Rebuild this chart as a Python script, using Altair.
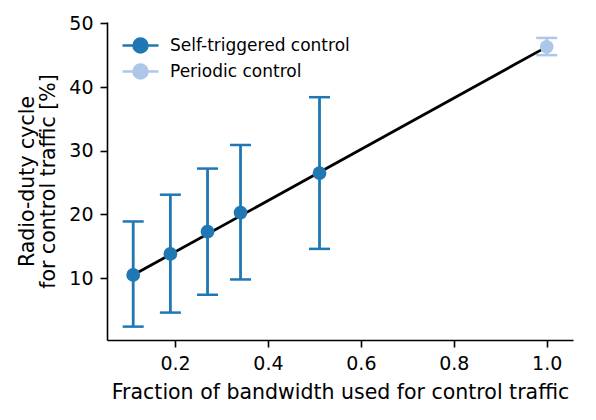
import altair as alt
import pandas as pd

# Data
series = ["Self-triggered control"] * 5 + ["Periodic control"]
frac = [0.110, 0.190, 0.270, 0.341, 0.511, 1.0]
duty = [10.5, 13.8, 17.3, 20.3, 26.5, 46.3]
low = [2.4, 4.6, 7.4, 9.8, 14.6, 45.0]
high = [18.9, 23.1, 27.2, 30.9, 38.4, 47.7]

fit_x = [0.110, 1.0]
fit_y = [10.5, 46.3]

x_ticks = [0.2, 0.4, 0.6, 0.8, 1.0]
y_ticks = [10, 20, 30, 40, 50]

df = pd.DataFrame({"series": series, "frac": frac, "duty": duty, "low": low, "high": high})
fit = pd.DataFrame({"frac": fit_x, "duty": fit_y})

FONT = "DejaVu Sans"
dom = ["Self-triggered control", "Periodic control"]
rng = ["#1f77b4", "#aec7e8"]

xs = alt.Scale(domain=[0.0536, 1.0566], nice=False, zero=False)
ys = alt.Scale(domain=[0.3, 50.2], nice=False, zero=False)

xenc = alt.X("frac:Q", scale=xs,
             axis=alt.Axis(values=x_ticks, format=".1f",
                           title="Fraction of bandwidth used for control traffic"))
yenc = alt.Y("duty:Q", scale=ys,
             axis=alt.Axis(values=y_ticks, format="d",
                           title=["Radio-duty cycle", "for control traffic [%]"]))

cscale = alt.Scale(domain=dom, range=rng)

sym = "M-1.8,0L1.8,0M0.7,0A0.7,0.7,0,1,1,-0.7,0A0.7,0.7,0,1,1,0.7,0Z"
leg = alt.Legend(
    title=None, orient="none", legendX=22, legendY=12, symbolType=sym,
    symbolSize=400, symbolStrokeWidth=2.5, labelOffset=18, rowPadding=1,
    labelFont=FONT, labelFontSize=17, labelColor="black", padding=0,
    labelBaseline="middle", labelLimit=400,
)

cenc = alt.Color("series:N", scale=cscale, legend=leg, sort=dom)

line = alt.Chart(fit).mark_line(color="black", strokeWidth=2.8).encode(x=xenc, y=yenc)

bars = alt.Chart(df).mark_rule(strokeWidth=2.8).encode(
    x=alt.X("frac:Q", scale=xs),
    y=alt.Y("low:Q", scale=ys),
    y2="high:Q",
    color=cenc,
)

caps = alt.Chart(df).transform_fold(["low", "high"], as_=["end", "val"]).mark_tick(
    orient="horizontal", size=21, thickness=2.5, opacity=1
).encode(
    x=alt.X("frac:Q", scale=xs),
    y=alt.Y("val:Q", scale=ys),
    color=cenc,
)

points = alt.Chart(df).mark_point(filled=True, size=190, opacity=1).encode(
    x=alt.X("frac:Q", scale=xs),
    y=alt.Y("duty:Q", scale=ys),
    color=cenc,
)

chart = alt.layer(line, bars, caps, points).properties(
    width=466, height=318,
    padding={"left": 107, "top": 22, "right": 23, "bottom": 80},
    autosize=alt.AutoSizeParams(type="none"),
    background="white",
).configure_view(stroke=None).configure_axis(
    grid=False, domainColor="black", domainWidth=1.6, tickColor="black",
    tickWidth=1.6, tickSize=7, labelColor="black", titleColor="black",
    labelFont=FONT, titleFont=FONT, labelFontSize=19, titleFontSize=20.5,
    titleFontWeight="normal", labelPadding=7,
).configure_axisY(titlePadding=10, titleLineHeight=21).configure_axisX(titlePadding=9)

chart.save("out.html", embed_options={"renderer": "svg", "actions": False})
